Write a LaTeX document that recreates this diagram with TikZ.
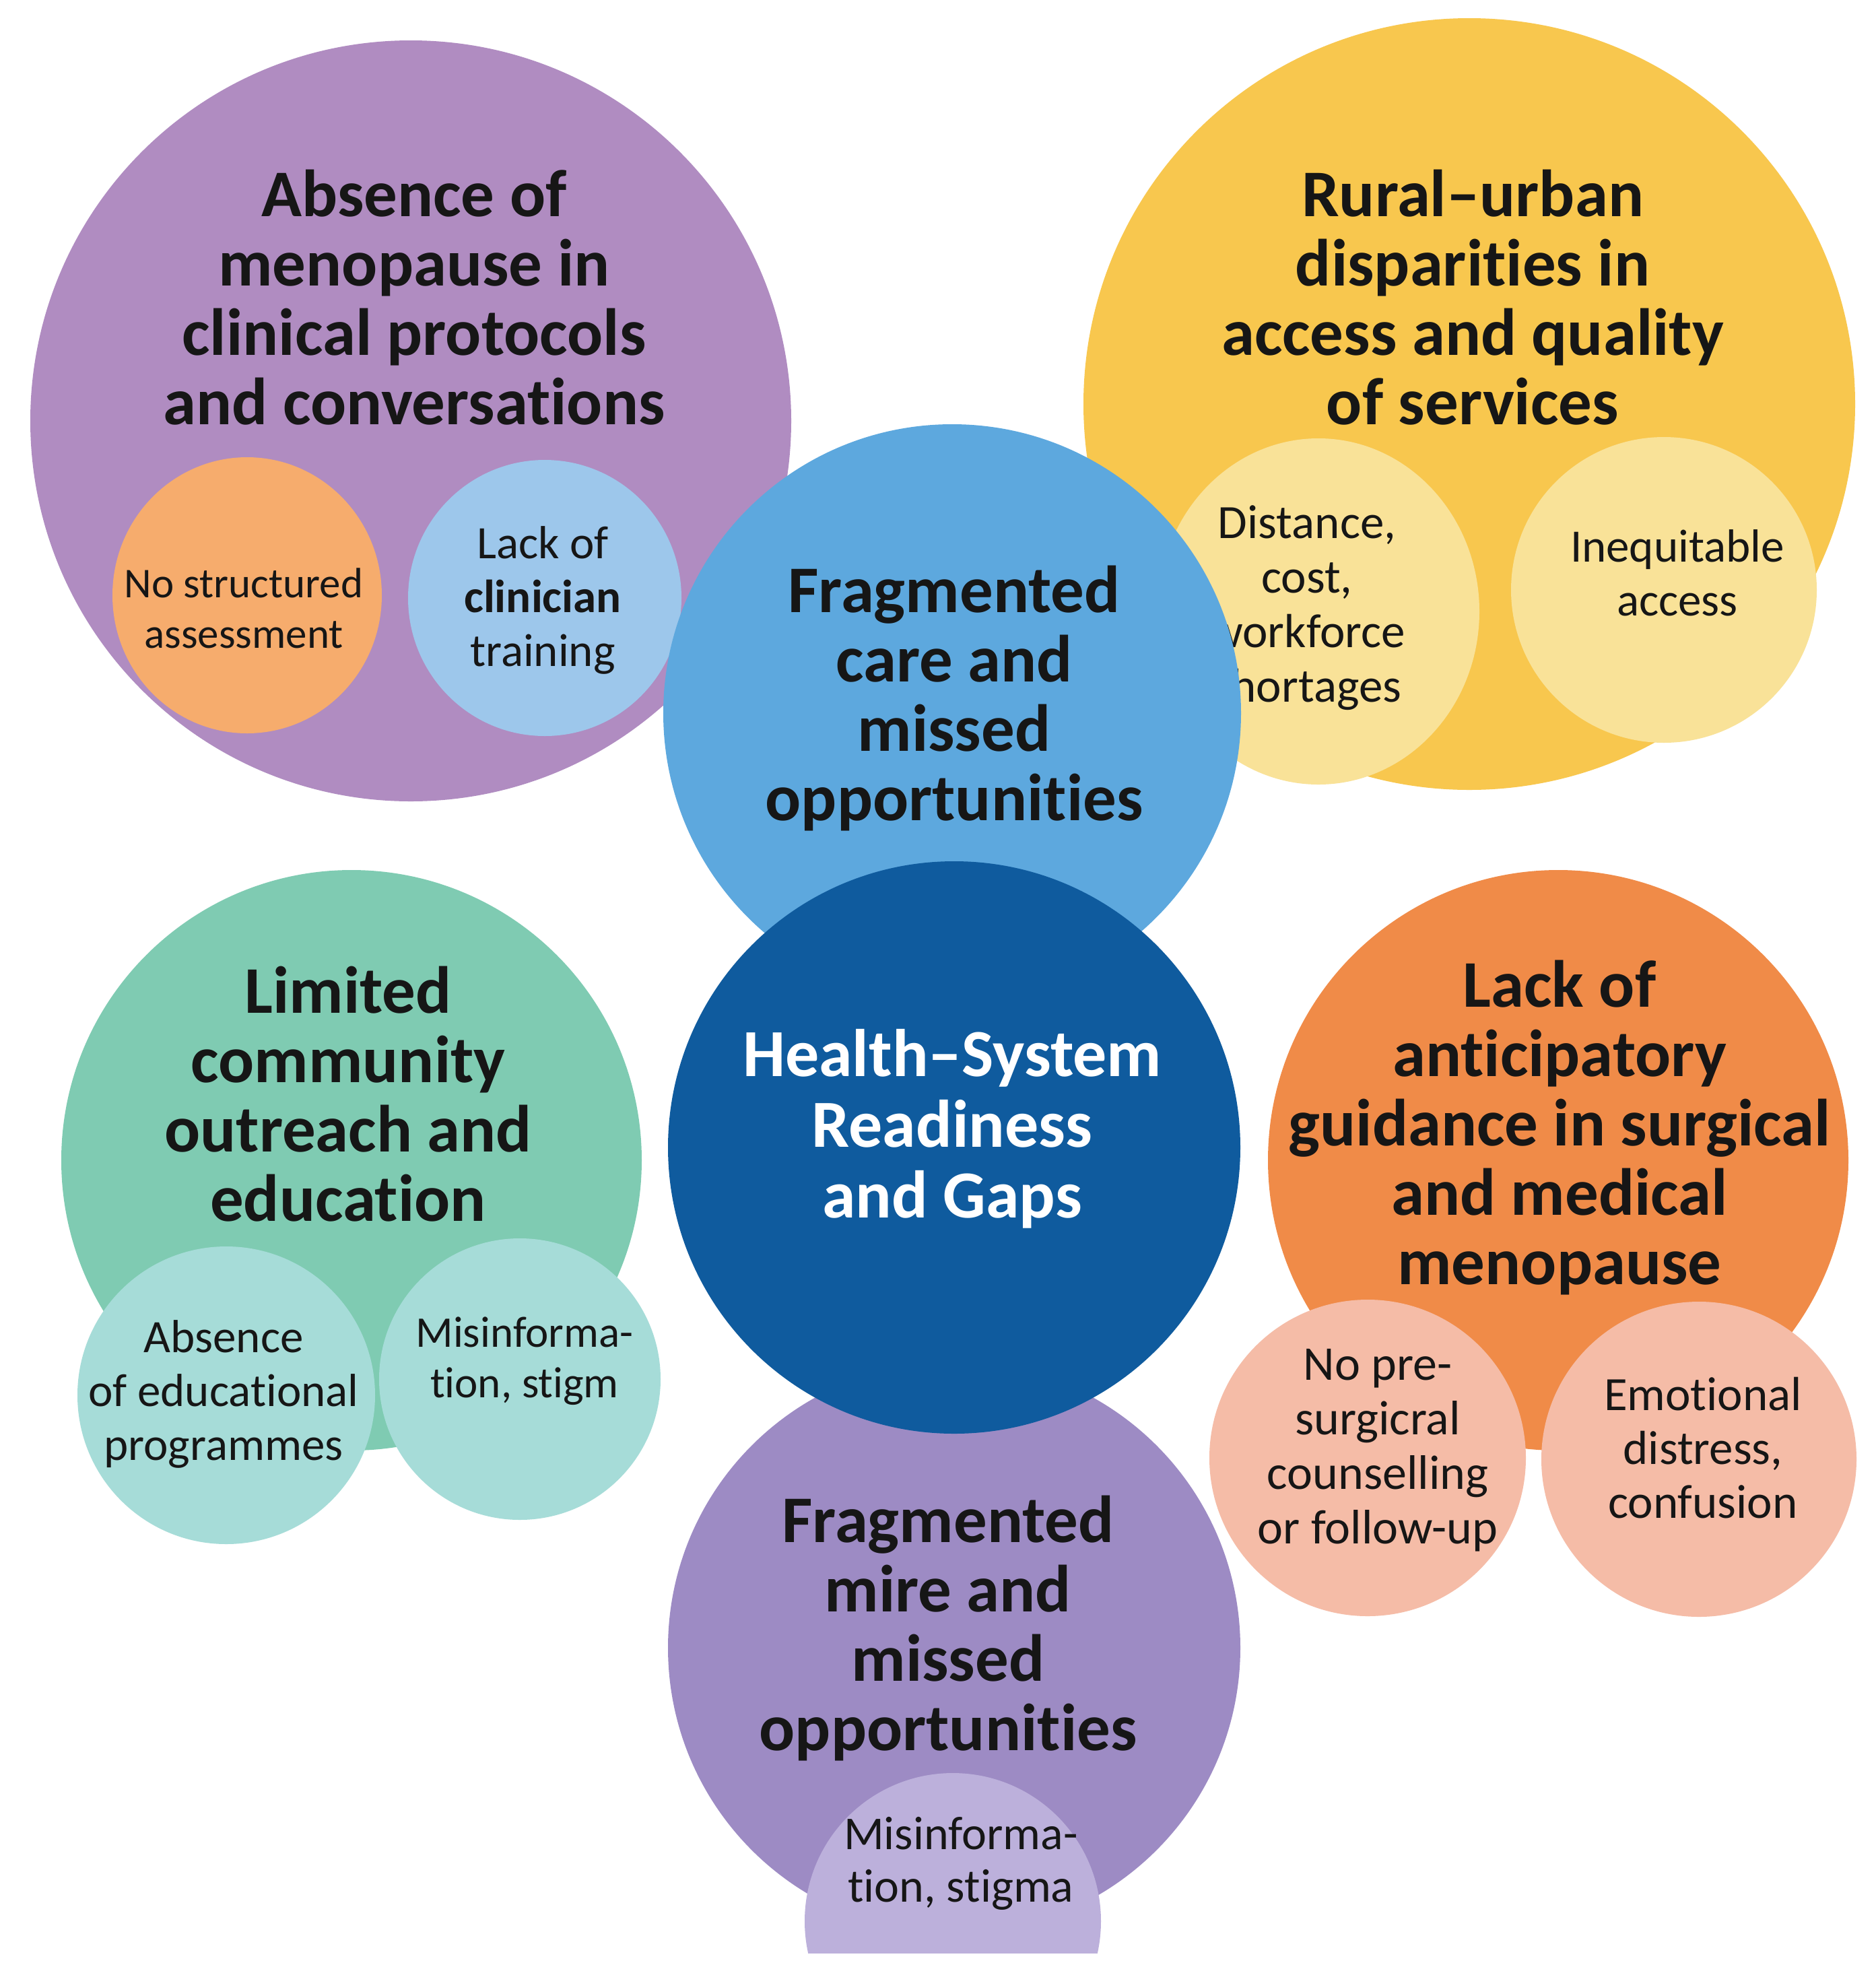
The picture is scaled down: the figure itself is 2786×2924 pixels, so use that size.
\documentclass[tikz,border=0pt]{standalone}
\usepackage{fontspec}
\setmainfont[Ligatures=NoCommon]{Carlito}
\usetikzlibrary{shapes.geometric}
\definecolor{ink}{HTML}{161616}
\definecolor{cPone}{HTML}{B08CC1}
\definecolor{cNS}{HTML}{F6AC6D}
\definecolor{cLC}{HTML}{9DC7EB}
\definecolor{cY}{HTML}{F8C74E}
\definecolor{cLY}{HTML}{F9E298}
\definecolor{cB}{HTML}{5DA8DE}
\definecolor{cD}{HTML}{0F5B9E}
\definecolor{cG}{HTML}{7FCBB2}
\definecolor{cT}{HTML}{A6DCD8}
\definecolor{cO}{HTML}{F08B48}
\definecolor{cPk}{HTML}{F5BCA7}
\definecolor{cPtwo}{HTML}{9D8BC4}
\definecolor{cMB}{HTML}{BCB0DB}
\tikzset{
  disc/.style={circle, inner sep=0pt, minimum size=#1, draw=none},
  oval/.style 2 args={ellipse, inner sep=0pt, minimum width=#1, minimum height=#2, draw=none},
  head/.style={align=center, text=ink, inner sep=0pt, font=\bfseries\fontsize{99}{103}\selectfont},
  small/.style={align=center, text=ink, inner sep=0pt, font=\fontsize{69}{80}\selectfont},
}
\begin{document}
\begin{tikzpicture}[x=1pt,y=-1pt]
\useasboundingbox (0,0) rectangle (2786,2924);
\fill[white] (0,0) rectangle (2786,2924);

% top-left purple group
\node[disc=1130pt, fill=cPone] (p1) at (610,625) {};
\node[oval={400pt}{410pt}, fill=cNS] (ns) at (367,884) {};
\node[oval={406pt}{410pt}, fill=cLC] (lc) at (809,888) {};
\node[head] (p1t) at (615,442) {Absence of\\menopause in\\clinical protocols\\and conversations};
\node[small, font=\fontsize{63}{75}\selectfont] (nst) at (362,903) {No structured\\assessment};
\node[small] (lct) at (806,891) {Lack of\\\textbf{clinician}\\training};

% yellow group
\node[disc=1146pt, fill=cY] (y) at (2182,600) {};
\node[oval={478pt}{514pt}, fill=cLY] (dc) at (1958,908) {};
\node[disc=454pt, fill=cLY] (ia) at (2471,876) {};
\node[head] (yt) at (2187,442) {Rural–urban\\disparities in\\access and quality\\of services};
\node[small, font=\fontsize{71}{81}\selectfont] (dct) at (1941,903) {Distance,\\cost,\\workforce\\shortages};
\node[small] (iat) at (2491,851) {Inequitable\\access};

% blue group
\node[disc=858pt, fill=cB] (b) at (1414,1059) {};
\node[head] (bt) at (1417,1037) {Fragmented\\care and\\missed\\opportunities};

% green group
\node[disc=862pt, fill=cG] (g) at (522,1723) {};
\node[disc=442pt, fill=cT] (ae) at (336,2072) {};
\node[disc=418pt, fill=cT] (ms) at (772,2048) {};
\node[head] (gt) at (517,1625) {Limited\\community\\outreach and\\education};
\node[small] (aet) at (332,2070) {Absence\\of educational\\programmes};
\node[small, font=\fontsize{65}{75}\selectfont] (mst) at (779,2021) {Misinforma-\\tion, stigm};

% orange group
\node[disc=862pt, fill=cO] (o) at (2314,1723) {};
\node[disc=470pt, fill=cPk] (np) at (2031,2165) {};
\node[disc=468pt, fill=cPk] (ed) at (2523,2167) {};
\node[head] (ot) at (2316,1675) {Lack of\\anticipatory\\guidance in surgical\\and medical\\menopause};
\node[small, font=\fontsize{72}{81}\selectfont] (npt) at (2046,2154) {No pre-\\surgicral\\counselling\\or follow-up};
\node[small, font=\fontsize{71}{80}\selectfont] (edt) at (2529,2150) {Emotional\\distress,\\confusion};

% bottom purple group
\node[disc=850pt, fill=cPtwo] (p2) at (1417,2447) {};
\begin{scope}
\clip (0,0) rectangle (2786,2900);
\node[disc=440pt, fill=cMB] (mb) at (1415,2853) {};
\end{scope}
\node[head] (p2t) at (1408,2418) {Fragmented\\mire and\\missed\\opportunities};
\node[small, font=\fontsize{70}{78}\selectfont] (mbt) at (1427,2767) {Misinforma-\\tion, stigma};

% centre
\node[disc=850pt, fill=cD] (d) at (1417,1704) {};
\node[head, text=white, font=\bfseries\fontsize{100}{105}\selectfont] (dt) at (1414,1676) {Health–System\\Readiness\\and Gaps};
\end{tikzpicture}
\end{document}
